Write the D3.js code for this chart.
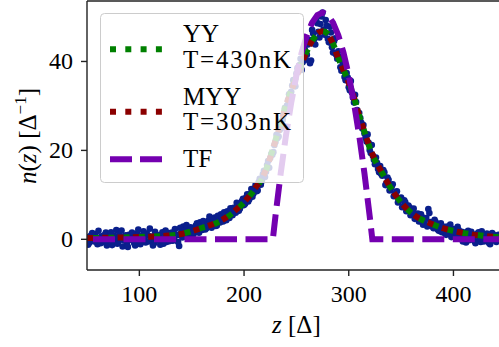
<!DOCTYPE html>
<html><head><meta charset="utf-8">
<script src="https://cdn.jsdelivr.net/npm/d3@7"></script>
</head><body style="margin:0">
<svg id="c" width="499" height="347"></svg>
<script>
// ---- data ----
const scatterZ = d3.range(50, 446, 2);
const scatterN = [
0.5,-0.8,0.9,-0.3,1.2,-1.1,0.2,0.7,-0.6,1.5,
-0.2,0.4,-1.3,0.8,2.1,-0.5,0.3,-1.6,0.6,-0.9,
1.0,-0.1,0.5,-1.4,1.3,-0.4,0.2,1.8,-0.7,0.9,
2.4,0.1,-0.9,1.1,0.4,-1.2,1.6,0.3,-0.6,1.4,
0.7,-0.3,2.3,0.9,-1.5,1.6,2.9,0.8,1.9,0.6,
2.2,1.3,3.1,1.7,3.8,2.1,3.4,2.5,4.2,2.9,
3.7,4.9,3.1,4.5,5.6,4.0,5.2,6.3,4.8,5.9,
7.1,6.0,7.8,6.9,8.6,7.7,9.4,8.5,10.2,9.6,
11.5,10.8,12.9,12.3,14.6,14.0,16.7,16.1,19.2,19.6,
21.9,22.8,24.6,25.1,28.0,29.2,31.3,32.0,34.6,35.1,
37.3,37.9,40.6,39.8,42.7,41.5,44.9,40.2,46.3,43.8,
48.6,45.4,50.1,47.2,49.3,45.1,47.8,43.2,44.6,41.5,
42.3,38.7,39.9,36.5,37.4,34.2,35.6,31.9,32.5,29.1,
28.4,26.2,25.7,22.8,23.6,20.1,21.2,17.9,18.4,15.8,
16.5,14.3,15.1,12.6,13.4,11.2,12.4,10.1,10.8,8.7,
9.4,7.5,8.3,6.7,7.2,5.6,6.9,4.9,5.8,4.1,
5.0,3.6,4.8,6.8,3.9,2.8,4.4,3.0,1.9,3.6,
2.4,1.3,2.9,1.6,0.5,2.3,1.1,2.8,0.2,1.7,
0.6,-0.7,1.9,0.4,1.2,-0.4,0.9,1.6,-0.6,0.8,
0.1,1.3,-0.8,0.6,1.1,-0.3,0.7,0.2
];
const scatterZ2 = d3.range(51, 447, 2);
const scatterN2 = [
-1.2,0.6,1.4,-0.5,0.3,1.9,-0.9,0.1,1.0,-1.4,
0.7,1.6,-0.4,0.2,-1.0,1.2,2.0,-0.2,0.9,-1.7,
0.4,1.5,-0.8,0.6,2.2,-1.1,0.8,0.0,1.3,-0.5,
0.6,-1.4,1.7,-0.2,0.9,0.2,-1.0,2.0,0.5,-0.4,
1.5,0.2,1.1,-0.6,2.6,
0.4,2.0,3.2,1.1,2.7,0.9,2.4,3.6,1.5,2.8,
4.1,2.2,3.3,5.1,2.6,4.4,3.0,5.3,3.8,5.0,
6.1,4.3,5.5,7.0,5.4,6.8,8.2,6.4,7.5,9.1,
8.0,10.1,9.0,11.3,10.3,12.2,11.0,13.6,13.1,15.4,
15.2,17.6,18.3,19.0,21.2,23.5,23.1,26.3,26.9,29.5,
30.1,32.6,33.2,35.8,34.4,38.5,39.2,38.1,43.0,40.4,
43.8,39.6,47.1,45.0,49.2,46.7,48.4,51.0,46.0,48.1,
44.3,46.5,42.0,45.2,40.6,41.0,37.9,38.6,35.8,36.4,
33.5,33.0,30.8,30.9,27.6,27.3,24.9,23.8,22.0,21.7,
19.4,18.8,16.9,17.2,15.1,14.7,15.6,12.2,13.9,11.0,
11.8,9.7,10.4,8.3,9.0,7.2,8.8,6.3,7.6,5.4,
6.2,4.6,5.4,4.0,5.6,3.3,4.5,2.9,5.9,3.2,
2.5,3.9,2.2,3.3,1.6,2.8,1.0,2.4,3.3,0.8,
1.8,0.3,2.1,1.0,-0.5,1.5,0.9,-0.2,1.7,0.5,
-0.9,1.3,0.2,1.8,-0.5,0.9,0.4,-1.1,1.4,0.3,
-0.6,1.0,0.0
];
const curveZ = [50,70,90,110,125,140,150,160,170,180,190,200,210,220,230,240,250,258,265,270,275,280,285,290,295,300,305,310,315,320,325,330,340,350,360,370,380,390,400,410,420,430,440,450];
const yyN =    [0.3,0.35,0.45,0.6,0.8,1.2,1.8,2.6,3.3,4.4,6.1,8.3,11.2,15.0,22.3,30.2,36.6,41.3,44.6,46.2,46.8,46.2,44.0,40.8,38.1,35.3,31.9,27.8,24.2,20.6,17.8,15.7,11.6,8.3,5.9,4.4,3.4,2.5,1.9,1.4,1.05,0.75,0.55,0.45];
const myyN =   [0.3,0.35,0.45,0.6,0.8,1.2,1.8,2.6,3.4,4.5,6.2,8.4,11.3,15.1,22.2,30.0,36.5,41.3,44.7,46.3,46.8,46.1,43.9,40.7,38.0,35.2,31.8,27.8,24.2,20.7,17.9,15.7,11.6,8.3,5.9,4.4,3.4,2.5,1.9,1.4,1.0,0.75,0.55,0.45];
const tfZ = [50,227.5,230,235,240,245,250,255,260,265,270,275,280,285,290,295,300,305,310,315,320,322.5,450];
const tfN = [0,0,5.23,14.84,23.31,30.66,36.87,41.96,45.91,48.74,50.43,51,50.43,48.74,45.91,41.96,36.87,30.66,23.31,14.84,5.23,0,0];
const xTicks = [100,200,300,400];
const yTicks = [0,20,40];
const legendLabels = [["YY","T=430nK"],["MYY","T=303nK"],["TF"]];
const colors = {pts:"#0a1f8c", yy:"#008000", myy:"#8b0000", tf:"#7400b0"};

// ---- layout ----
const svg = d3.select("#c");
const L = 87, R = 505.8, T = 1, B = 270;
const x = d3.scaleLinear().domain([50,450]).range([L,R]);
const y = d3.scaleLinear().domain([-6.9,53.6]).range([B,T]);
function txt(sel, size){
  return sel.append("text").attr("font-size", size).style("font-family", "'Liberation Serif'");
}

svg.append("clipPath").attr("id","clip").append("rect")
  .attr("x",L).attr("y",T).attr("width",R-L).attr("height",B-T);
const plot = svg.append("g").attr("clip-path","url(#clip)");

const pts = scatterZ.map((z,i)=>[z,scatterN[i]]).concat(scatterZ2.map((z,i)=>[z,scatterN2[i]]));
plot.append("g").selectAll("circle").data(pts)
  .join("circle").attr("cx",d=>x(d[0])).attr("cy",d=>y(d[1])).attr("r",3.3)
  .attr("fill",colors.pts);

const lineC = d3.line().x(d=>x(d[0])).y(d=>y(d[1])).curve(d3.curveMonotoneX);
const lineL = d3.line().x(d=>x(d[0])).y(d=>y(d[1]));
plot.append("path").attr("d",lineC(curveZ.map((z,i)=>[z,yyN[i]])))
  .attr("fill","none").attr("stroke",colors.yy).attr("stroke-width",6)
  .attr("stroke-dasharray","6,9.3").attr("stroke-dashoffset",-6);
plot.append("path").attr("d",lineC(curveZ.map((z,i)=>[z,myyN[i]])))
  .attr("fill","none").attr("stroke",colors.myy).attr("stroke-width",6)
  .attr("stroke-dasharray","6,9.3");
plot.append("path").attr("d",lineL(tfZ.map((z,i)=>[z,tfN[i]])))
  .attr("fill","none").attr("stroke",colors.tf).attr("stroke-width",6)
  .attr("stroke-dasharray","22,8.5").attr("stroke-dashoffset",24.5);

// ---- axes ----
const ax = svg.append("g").attr("stroke","#222").attr("stroke-width",1.4);
ax.append("line").attr("x1",L).attr("x2",L).attr("y1",T).attr("y2",B);
ax.append("line").attr("x1",L).attr("x2",R).attr("y1",B).attr("y2",B);
ax.append("line").attr("x1",L).attr("x2",R).attr("y1",T).attr("y2",T);
xTicks.forEach(t=>{
  ax.append("line").attr("x1",x(t)).attr("x2",x(t)).attr("y1",B).attr("y2",B+6);
  txt(svg,24).attr("x",x(t)).attr("y",302).attr("text-anchor","middle").text(t);
});
yTicks.forEach(t=>{
  ax.append("line").attr("x1",L-6).attr("x2",L).attr("y1",y(t)).attr("y2",y(t));
  txt(svg,24).attr("x",73).attr("y",y(t)+8).attr("text-anchor","end").text(t);
});

// axis labels
const xl = txt(svg,25).attr("x",(L+R)/2).attr("y",333).attr("text-anchor","middle");
xl.append("tspan").attr("font-style","italic").text("z");
xl.append("tspan").text(" [Δ]");

const yl = txt(svg,25).attr("transform","translate(36,136) rotate(-90)")
  .attr("text-anchor","middle");
yl.append("tspan").attr("font-style","italic").text("n");
yl.append("tspan").text("(");
yl.append("tspan").attr("font-style","italic").text("z");
yl.append("tspan").text(") [Δ");
yl.append("tspan").attr("font-size",17).attr("dy",-10).text("−1");
yl.append("tspan").attr("dy",10).text("]");

// ---- legend ----
const lg = svg.append("g");
lg.append("rect").attr("x",100.5).attr("y",13.5).attr("width",203).attr("height",169)
  .attr("rx",4).attr("fill","#fff").attr("fill-opacity",0.8)
  .attr("stroke","#cccccc").attr("stroke-width",1);
const handles = [
  {y:49.3, c:colors.yy, dash:"6,9.3"},
  {y:111.7, c:colors.myy, dash:"6,9.3"},
  {y:159.3, c:colors.tf, dash:"22,8"}
];
handles.forEach(h=>{
  lg.append("line").attr("x1",110).attr("x2",162).attr("y1",h.y).attr("y2",h.y)
    .attr("stroke",h.c).attr("stroke-width",6).attr("stroke-dasharray",h.dash);
});
const textRows = [
  {t:legendLabels[0][0], y:42}, {t:legendLabels[0][1], y:68, w:108},
  {t:legendLabels[1][0], y:105}, {t:legendLabels[1][1], y:130, w:108},
  {t:legendLabels[2][0], y:167}
];
textRows.forEach(r=>{
  const t = txt(lg,25).attr("x",183).attr("y",r.y).text(r.t);
  if (r.w) t.attr("textLength",r.w).attr("lengthAdjust","spacing");
});
</script>
</body></html>
